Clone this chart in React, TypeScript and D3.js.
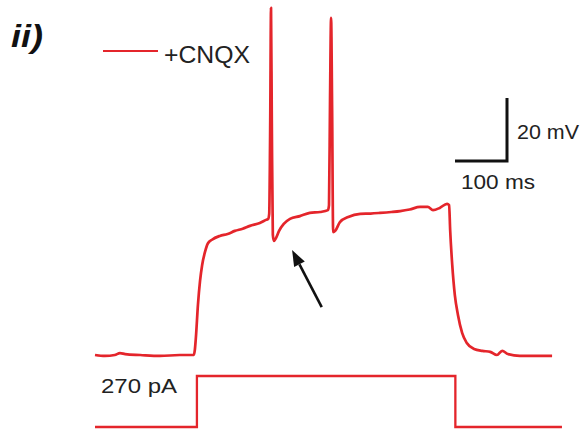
import React from "react";
import * as d3 from "d3";

// Membrane potential trace: time (ms) and voltage (mV)
const voltageTime = [
  0, 19, 38, 48, 58, 87, 125, 163, 190, 192, 194, 198, 202, 206, 212, 217, 225, 240, 255, 269, 284, 298, 317, 329, 333,
  335, 337, 338.5, 340, 342, 344, 348, 354, 363, 375, 394, 413, 433, 448,
  450, 452, 454, 456, 458, 462, 471, 487, 510, 530, 548, 570, 587, 605, 625, 640, 650, 663, 677, 681,
  683, 687, 692, 698, 706, 715, 729, 745, 760, 773, 783, 794, 817, 856, 879,
];
const voltageMv = [
  -70, -70.3, -70, -69.4, -69.7, -70, -70.3, -70, -70, -68.4, -64.5, -54, -46.5, -41.5, -37, -34.6, -33.4, -32.2, -31.6, -30.6, -29.9, -29, -28.1, -27.1, -26.8,
  -25.2, 4.6, 40.2, 4.6, -31.9, -33.8, -32.9, -30.6, -28.4, -26.8, -25.9, -24.9, -24.6, -24,
  -22.4, 11, 37, 7.8, -31, -30.6, -27.8, -26.2, -25.2, -25.1, -24.9, -24.6, -24.3, -23.8, -23, -23, -24, -23.3, -22, -22.4,
  -30.3, -41.4, -51, -57.3, -63, -66.2, -68.1, -68.7, -69, -70, -68.7, -69.7, -70.3, -70.3, -70.3,
];

// Injected current step: time (ms) and current (pA)
const currentTime = [0, 196, 196, 693, 693, 898];
const currentPa = [0, 0, 270, 270, 0, 0];

// Annotation arrow (tail -> tip) in data units
const arrowTail = { t: 436, v: -54.8 };
const arrowTip = { t: 379, v: -36.7 };

// Scale bar sizes
const scaleBarMv = 20;
const scaleBarMs = 100;

const RED = "#e4252b";

export default function App() {
  const x = d3.scaleLinear().domain([0, 100]).range([95, 147]);
  const yV = d3.scaleLinear().domain([-70, 40]).range([355, 8.5]);
  const yI = d3.scaleLinear().domain([0, 270]).range([427, 376]);

  const vLine = d3
    .line<number>()
    .x((_, i) => x(voltageTime[i]))
    .y((d) => yV(d))
    .curve(d3.curveMonotoneX);

  const iLine = d3
    .line<number>()
    .x((_, i) => x(currentTime[i]))
    .y((d) => yI(d));

  // arrow geometry
  const tx = x(arrowTip.t), ty = yV(arrowTip.v);
  const sx = x(arrowTail.t), sy = yV(arrowTail.v);
  const ang = Math.atan2(ty - sy, tx - sx);
  const headLen = 16, headW = 6;
  const bx = tx - headLen * Math.cos(ang), by = ty - headLen * Math.sin(ang);
  const px = -Math.sin(ang) * headW, py = Math.cos(ang) * headW;
  const head = `M${tx},${ty}L${bx + px},${by + py}L${bx - px},${by - py}Z`;

  // scale bar corner
  const cx = 507, cy = 161;
  const barH = yV(0) - yV(scaleBarMv);
  const barW = x(scaleBarMs) - x(0);

  const font = "Liberation Sans, Arial, Helvetica, sans-serif";

  return (
    <svg
      width={587}
      height={429}
      style={{ position: "fixed", left: 0, top: 0, background: "#fff" }}
      fontFamily={font}
    >
      <text x={11} y={47} fontSize={31} fontWeight={900} fontStyle="italic" fill="#111" textLength={32} lengthAdjust="spacingAndGlyphs">
        ii)
      </text>

      {/* legend */}
      <line x1={103} x2={158} y1={51} y2={51} stroke={RED} strokeWidth={2.2} />
      <text x={164} y={63} fontSize={23} fill="#222" textLength={86} lengthAdjust="spacingAndGlyphs">
        +CNQX
      </text>

      {/* voltage trace */}
      <path d={vLine(voltageMv) ?? ""} fill="none" stroke={RED} strokeWidth={2.7} strokeLinejoin="round" />

      {/* current trace */}
      <path d={iLine(currentPa) ?? ""} fill="none" stroke={RED} strokeWidth={2.3} />
      <text x={101} y={393} fontSize={21} fill="#222" textLength={76} lengthAdjust="spacingAndGlyphs">
        270 pA
      </text>

      {/* scale bar */}
      <path
        d={`M${cx},${cy - barH}L${cx},${cy}L${cx - barW},${cy}`}
        fill="none"
        stroke="#111"
        strokeWidth={3}
      />
      <text x={517} y={139} fontSize={21} fill="#222" textLength={62} lengthAdjust="spacingAndGlyphs">
        20 mV
      </text>
      <text x={461} y={189} fontSize={21} fill="#222" textLength={74} lengthAdjust="spacingAndGlyphs">
        100 ms
      </text>

      {/* arrow */}
      <line x1={sx} y1={sy} x2={bx} y2={by} stroke="#111" strokeWidth={2.6} />
      <path d={head} fill="#111" />
    </svg>
  );
}
